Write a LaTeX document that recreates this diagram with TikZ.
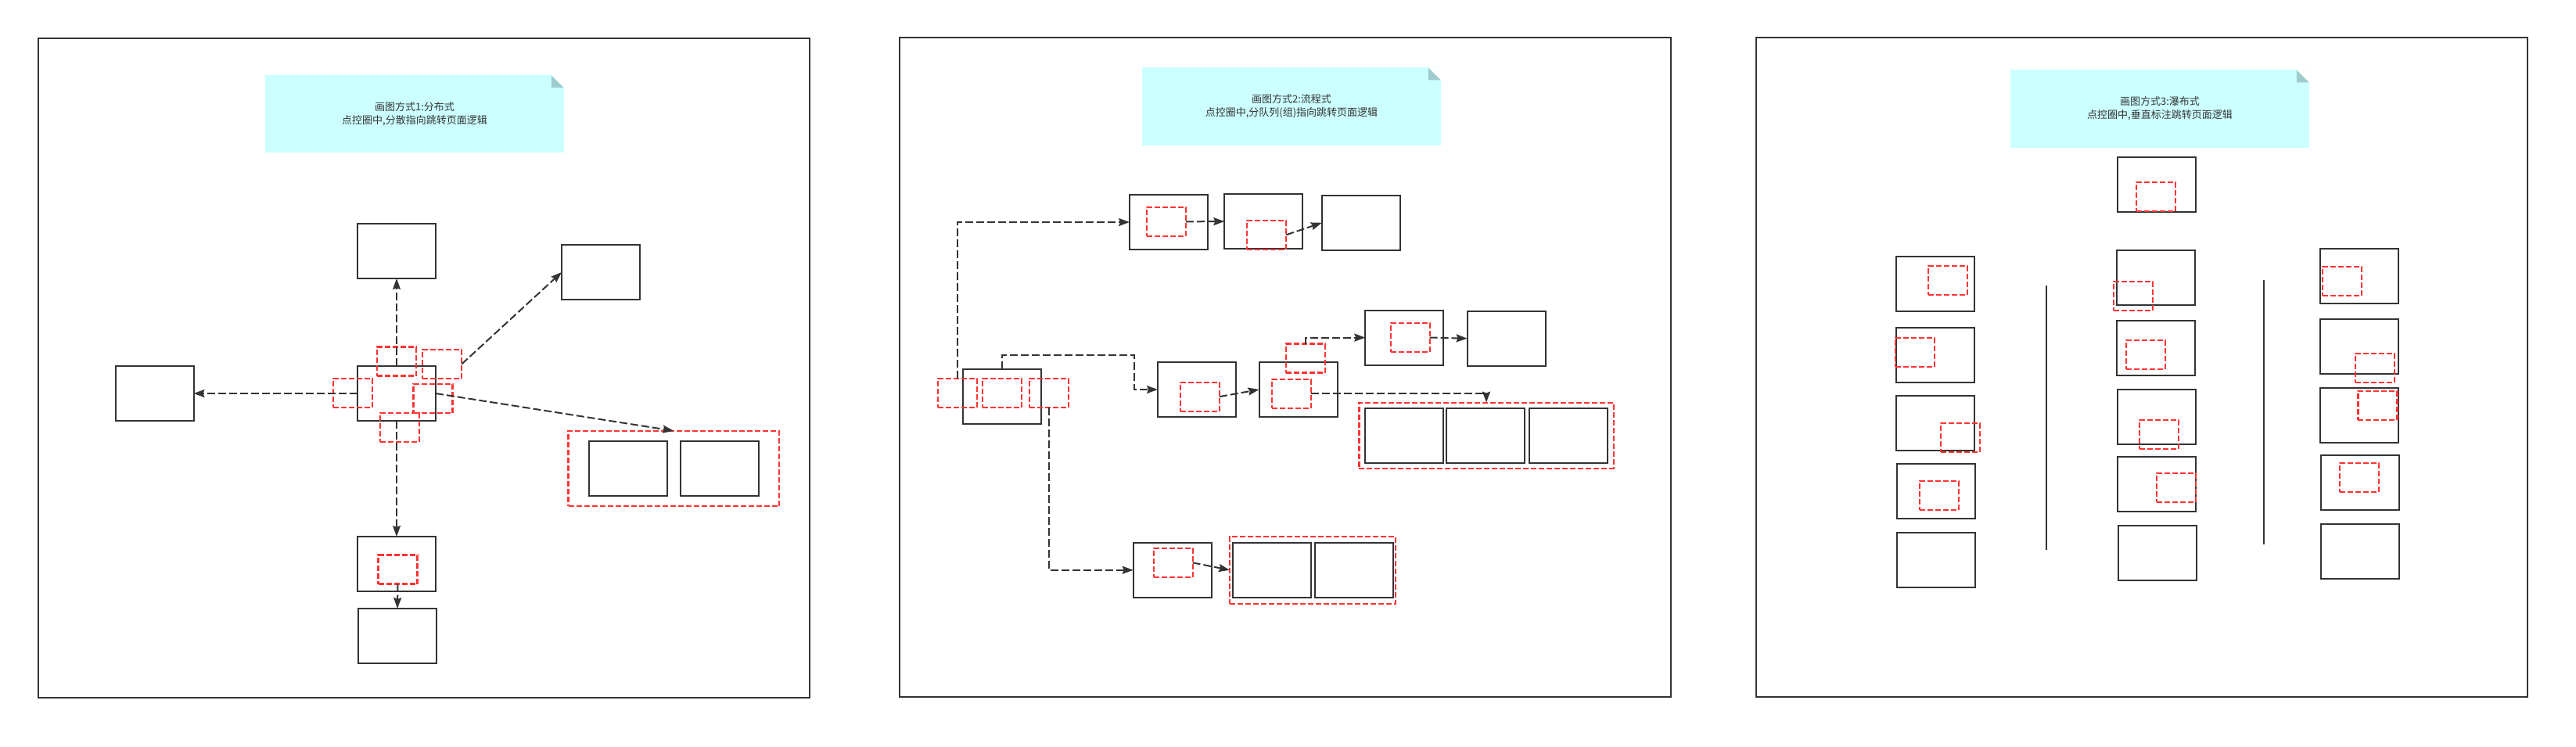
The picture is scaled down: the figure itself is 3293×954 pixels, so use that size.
\documentclass[tikz,border=0pt]{standalone}
\usepackage{fontspec}
\newfontfamily\cjk{Noto Sans CJK SC}
\usepackage{tikz}
\usetikzlibrary{
  arrows.meta,
  fit,
  calc
}
\definecolor{LineGray}{RGB}{51,51,51}
\definecolor{HotRed}{RGB}{255,51,51}
\definecolor{NoteCyan}{RGB}{204,255,255}
\definecolor{FoldTeal}{RGB}{158,204,204}
\tikzset{
  frame/.style={draw=LineGray,line width=1pt,minimum width=493pt,minimum height=421.5pt,inner sep=0pt,outer sep=0pt},
  page/.style={draw=LineGray,fill=white,line width=1pt,minimum width=50pt,minimum height=35pt,inner sep=0pt,outer sep=0pt},
  hot/.style={draw=HotRed,dash pattern=on 3.5pt off 1.5pt,line width=1.1pt,minimum width=25pt,minimum height=18.5pt,inner sep=0pt,outer sep=0pt},
  hotgroup/.style={draw=HotRed,dash pattern=on 3.5pt off 1.5pt,line width=1.1pt,outer sep=0pt},
  jump/.style={-{Stealth[length=7pt,width=5pt,inset=1pt]},dash pattern=on 5pt off 2pt,line width=1pt,draw=LineGray},
  divider/.style={draw=LineGray,line width=1pt},
  note/.style={fill=NoteCyan,text=LineGray,align=center,font=\cjk\fontsize{6.5}{8.65}\selectfont,minimum width=190.8pt,minimum height=49.6pt,inner sep=0pt,
    path picture={
      \fill[white] ([xshift=-8pt]path picture bounding box.north east) -- (path picture bounding box.north east) -- ([yshift=-8pt]path picture bounding box.north east) -- cycle;
      \fill[FoldTeal] ([xshift=-8pt]path picture bounding box.north east) -- ([yshift=-8pt]path picture bounding box.north east) -- ([xshift=-8pt,yshift=-8pt]path picture bounding box.north east) -- cycle;
    }}
}

\begin{document}
\begin{tikzpicture}[x=0.5pt,y=-0.5pt]
\useasboundingbox (0,0) rectangle (3293,954);

\node[frame] (p1) at (541.5,470) {};
\node[frame] (p2) at (1643.3,469.5) {};
\node[frame] (p3) at (2738.3,469.5) {};

\node[note] (n1) at (530,145.7) {画图方式1:分布式\\点控圈中,分散指向跳转页面逻辑};
\node[note] (n2) at (1651,136) {画图方式2:流程式\\点控圈中,分队列(组)指向跳转页面逻辑};
\node[note] (n3) at (2761,139) {画图方式3:瀑布式\\点控圈中,垂直标注跳转页面逻辑};

\node[page] (t) at (507,321) {};
\node[page] (ne) at (768,348) {};
\node[page] (l) at (197.5,503) {};
\node[page] (c) at (507,503) {};
\node[page] (g1) at (802.5,599) {};
\node[page] (g2) at (920,599) {};
\node[page] (b1) at (507,721) {};
\node[page] (b2) at (508,813) {};
\node[hot] (ct) at (507,462) {};
\node[hot] (ctr) at (565.3,465.4) {};
\node[hot] (cl) at (451,502.3) {};
\node[hot] (cr) at (553.5,509.2) {};
\node[hot] (cb) at (511,546.3) {};
\node[hot] (b1h) at (508.5,728) {};
\node[hotgroup,fit=(g1)(g2),inner xsep=13pt,inner ysep=6.6pt] (grp1) {};

\draw[jump] (c.north) -- (t.south);
\draw[jump] (ctr.east) -- (ne.west);
\draw[jump] (c.west) -- (l.east);
\draw[jump] (c.east) -- (grp1.north);
\draw[jump] (c.south) -- (b1.north);
\draw[jump] (b1h.south) -- (b2.north);

\node[page] (a1) at (1494,284) {};
\node[page] (a2) at (1615.3,283) {};
\node[page] (a3) at (1739.8,284.8) {};
\node[page] (s) at (1281.3,506.8) {};
\node[page] (m1) at (1530,498) {};
\node[page] (m2) at (1659.5,498) {};
\node[page] (u1) at (1795.3,431.6) {};
\node[page] (u2) at (1925.6,432.7) {};
\node[page] (e1) at (1795.3,556.8) {};
\node[page] (e2) at (1898.8,556.8) {};
\node[page] (e3) at (2004.8,556.8) {};
\node[page] (d1) at (1498.7,728.8) {};
\node[page] (f1) at (1625.6,728.8) {};
\node[page] (f2) at (1730.7,728.8) {};
\node[hot] (a1h) at (1490.8,283.4) {};
\node[hot] (a2h) at (1619.3,300.2) {};
\node[hot] (sl) at (1223.7,502.4) {};
\node[hot] (sm) at (1280.7,502.4) {};
\node[hot] (sr) at (1341,502.4) {};
\node[hot] (m1h) at (1534,507.1) {};
\node[hot] (m2h) at (1650.6,503.2) {};
\node[hot] (m2u) at (1668.6,458) {};
\node[hot] (u1h) at (1802.6,431.5) {};
\node[hot] (d1h) at (1499.6,719.3) {};
\node[hotgroup,fit=(e1)(e3),inner xsep=3.95pt,inner ysep=3.6pt] (grp2) {};
\node[hotgroup,fit=(f1)(f2),inner xsep=1.8pt,inner ysep=3.95pt] (grp3) {};

\draw[jump] (sl.north) |- (a1.west);
\draw[jump] (a1h.east) -- (a2.west);
\draw[jump] (a2h.east) -- (a3.west);
\draw[jump] (s.north) -- ++(0,-18) -| ([xshift=-15pt]m1.west) -- (m1.west);
\draw[jump] (sr.south) |- (d1.west);
\draw[jump] (m1h.east) -- (m2.west);
\draw[jump] (m2u.north) |- (u1.west);
\draw[jump] (u1h.east) -- (u2.west);
\draw[jump] (m2h.east) -| (grp2.north);
\draw[jump] (d1h.east) -- (grp3.west);

\node[page] (top) at (2757,235.7) {};
\node[page] (k1) at (2473.5,362.8) {};
\node[page] (k2) at (2473.5,453.8) {};
\node[page] (k3) at (2473.5,540.9) {};
\node[page] (k4) at (2474.7,628) {};
\node[page] (k5) at (2474.7,716) {};
\node[page] (v1) at (2755.9,354.7) {};
\node[page] (v2) at (2755.9,444.8) {};
\node[page] (v3) at (2757,532.8) {};
\node[page] (v4) at (2757,618.8) {};
\node[page] (v5) at (2757.9,706.8) {};
\node[page] (r1) at (3016.2,352.8) {};
\node[page] (r2) at (3016.2,442.7) {};
\node[page] (r3) at (3016.2,530.8) {};
\node[page] (r4) at (3017,616.9) {};
\node[page] (r5) at (3017,704.9) {};
\node[hot] (toph) at (2755.9,251.4) {};
\node[hot] (k1h) at (2489.6,358.4) {};
\node[hot] (k2h) at (2448.3,450.4) {};
\node[hot] (k3h) at (2505.8,559.3) {};
\node[hot] (k4h) at (2478.6,633.3) {};
\node[hot] (v1h) at (2726.8,378.3) {};
\node[hot] (v2h) at (2742.9,453.3) {};
\node[hot] (v3h) at (2760,555.3) {};
\node[hot] (v4h) at (2782,623.4) {};
\node[hot] (r1h) at (2994,359.3) {};
\node[hot] (r2h) at (3036.2,470.3) {};
\node[hot] (r3h) at (3039.4,518.4) {};
\node[hot] (r4h) at (3015.9,610.4) {};

\coordinate (s1a) at (2616.3,364.8);
\coordinate (s1b) at (2616.3,703.2);
\coordinate (s2a) at (2893.6,358.3);
\coordinate (s2b) at (2893.6,696.3);
\draw[divider] (s1a) -- (s1b);
\draw[divider] (s2a) -- (s2b);
\end{tikzpicture}
\end{document}
